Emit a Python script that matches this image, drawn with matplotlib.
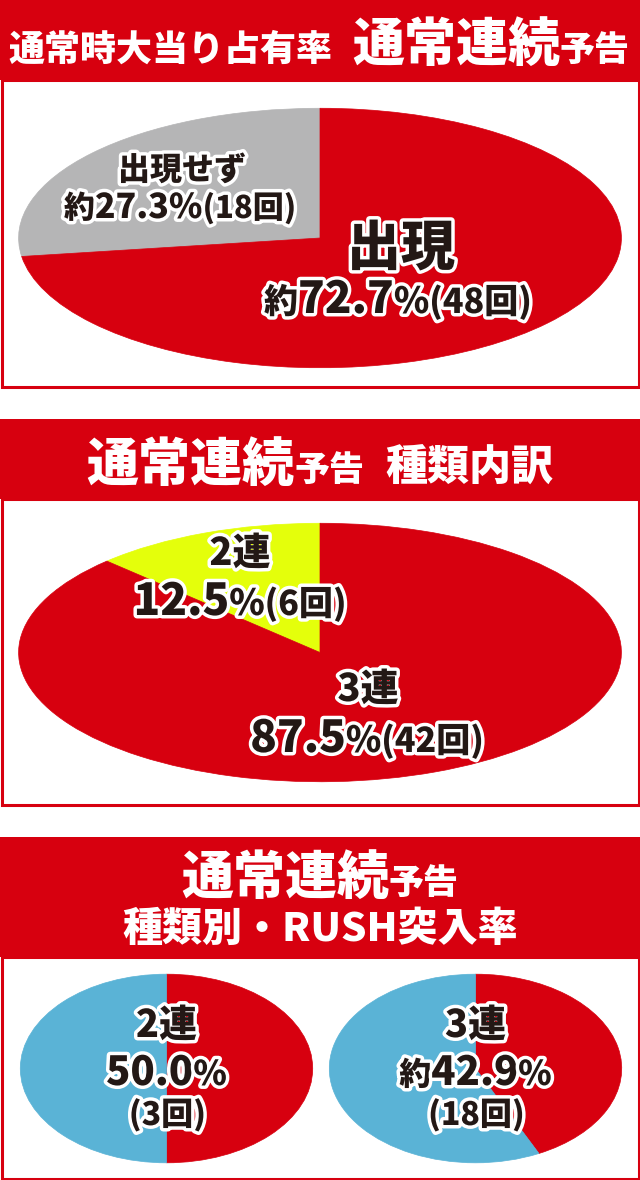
import matplotlib
matplotlib.use("Agg")
import matplotlib.pyplot as plt
import matplotlib.patheffects as pe
from matplotlib.patches import Rectangle

# data
share_labels = ["出現せず", "出現"]
share_counts = [18, 48]
share_pcts = ["27.3%", "72.7%"]

type_labels = ["2連", "3連"]
type_counts = [6, 42]
type_pcts = ["12.5%", "87.5%"]

rush_labels = ["2連", "3連"]
rush_hits = [3, 18]
rush_totals = [6, 42]
rush_pcts = ["50.0%", "42.9%"]

RED = "#d7000f"
GRAY = "#b5b5b6"
YELLOW = "#e4ff0b"
BLUE = "#5ab3d6"
INK = "#231815"
FONT = ["Noto Sans CJK JP", "DejaVu Sans"]

W, H = 640, 1180
fig = plt.figure(figsize=(W / 100, H / 100), dpi=100)


def pixel_axes(z):
    ax = fig.add_axes([0, 0, 1, 1], zorder=z)
    ax.set_xlim(0, W)
    ax.set_ylim(H, 0)
    ax.axis("off")
    ax.patch.set_alpha(0)
    return ax


back = pixel_axes(0)    # panel boxes
front = pixel_axes(10)  # all text
renderer = fig.canvas.get_renderer()


def panel(top, head_bottom, bottom):
    back.add_patch(Rectangle((0, top), W, head_bottom - top, color=RED, lw=0))
    back.add_patch(Rectangle((1.5, head_bottom), W - 3, bottom - head_bottom - 1.5,
                             facecolor="white", edgecolor=RED, lw=2.2))


def rich(x, y, parts, color=INK, stroke=True):
    """draw text pieces left to right, centred on x, baseline at y.
    parts: (text, size in px) or a number for an extra gap"""
    fx = [pe.withStroke(linewidth=5, foreground="white")] if stroke else None
    items = []
    for p in parts:
        if isinstance(p, (int, float)):
            items.append((None, p))
            continue
        s, px = p
        t = front.text(0, y, s, fontsize=px * 0.72, color=color, ha="left",
                       va="baseline", family=FONT, fontweight="black",
                       path_effects=fx)
        items.append((t, t.get_window_extent(renderer).width))
    x0 = x - sum(w for _, w in items) / 2
    for t, w in items:
        if t is not None:
            t.set_x(x0)
        x0 += w


def pie(cx, cy, a, b, values, colors, counterclock=True):
    ax = fig.add_axes([(cx - a) / W, 1 - (cy + b) / H, 2 * a / W, 2 * b / H],
                      zorder=5)
    wedges, _ = ax.pie(values, colors=colors, startangle=90,
                       counterclock=counterclock, wedgeprops=dict(linewidth=0.5))
    for w in wedges:
        w.set_edgecolor(w.get_facecolor())
    ax.set_aspect("auto")
    ax.set_xlim(-1.002, 1.002)
    ax.set_ylim(-1.002, 1.002)
    ax.axis("off")
    return ax


# panel 1
panel(0, 80, 388)
rich(319, 61, [("通常時大当り占有率", 36), 20, ("通常連続", 52), ("予告", 35)],
     color="white", stroke=False)
pie(320, 238, 302, 130, share_counts, [GRAY, RED])
rich(182, 180, [(share_labels[0], 32)])
rich(180, 218, [("約", 31), (share_pcts[0], 34), (f"({share_counts[0]}回)", 31)])
rich(401, 265, [(share_labels[1], 54)])
rich(398, 313, [("約", 34), (share_pcts[1][:-1], 44), ("%", 36), (f"({share_counts[1]}回)", 34)])

# panel 2
panel(419, 499, 806)
rich(320, 481, [("通常連続", 52), ("予告", 35), 21, ("種類内訳", 42)],
     color="white", stroke=False)
pie(320, 652.5, 302, 129.5, type_counts, [YELLOW, RED])
rich(240, 565, [(type_labels[0], 38)])
rich(240, 615, [(type_pcts[0][:-1], 44), ("%", 36), (f"({type_counts[0]}回)", 34)])
rich(368, 701, [(type_labels[1], 38)])
rich(367, 752, [(type_pcts[1][:-1], 44), ("%", 36), (f"({type_counts[1]}回)", 34)])

# panel 3
panel(837, 957, 1180)
rich(320, 894, [("通常連続", 52), ("予告", 35)], color="white", stroke=False)
rich(320, 941, [("種類別・RUSH突入率", 40)], color="white", stroke=False)
for cx, lab, hit, tot, pct, pre in zip([166.5, 475.5], rush_labels, rush_hits,
                                        rush_totals, rush_pcts, ["", "約"]):
    pie(cx, 1068.5, 146.5, 94.5, [hit, tot - hit], [RED, BLUE], counterclock=False)
    rich(cx, 1037, [(lab, 38)])
    parts = [(pct[:-1], 40), ("%", 34)]
    if pre:
        parts.insert(0, (pre, 32))
    rich(cx, 1085, parts)
    rich(cx + 1, 1125, [(f"({hit}回)", 32)])

fig.savefig("out.png", dpi=100)
